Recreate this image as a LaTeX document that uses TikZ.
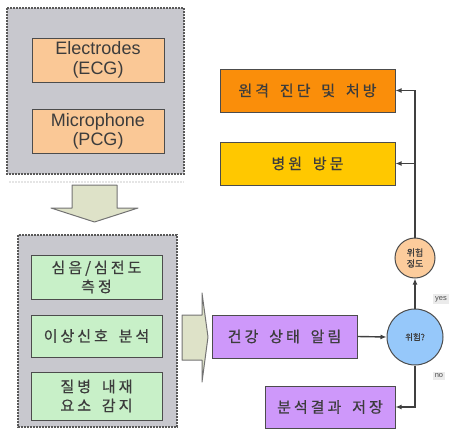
\documentclass[tikz,border=0pt]{standalone}
\usepackage{fontspec}
\setmainfont{Liberation Sans}
\newfontfamily\kr[LetterSpace=20,FakeBold=0.6,WordSpace=1.7]{Noto Sans CJK KR}
\newfontfamily\krs[FakeBold=0.4]{Noto Sans CJK KR}
\usetikzlibrary{arrows.meta}
\definecolor{grayfill}{RGB}{200,200,206}
\definecolor{peachbox}{RGB}{250,200,150}
\definecolor{greenbox}{RGB}{200,240,200}
\definecolor{purplebox}{RGB}{206,152,250}
\definecolor{bluecirc}{RGB}{150,200,250}
\definecolor{peachcirc}{RGB}{252,204,156}
\definecolor{orangebox}{RGB}{250,142,10}
\definecolor{yellowbox}{RGB}{255,200,0}
\definecolor{arrowfill}{RGB}{222,226,200}
\definecolor{txt}{RGB}{60,60,60}
\tikzset{
  groupbox/.style={draw=black!65, fill=grayfill, dash pattern=on 2pt off 1pt, line width=1.3pt},
  grpshadow/.style={draw=black!10, dash pattern=on 2pt off 1pt, line width=1.2pt},
  engbox/.style={draw=black!70, fill=peachbox, line width=1pt, minimum width=132pt, minimum height=44pt, inner sep=0pt, align=center, text=txt, font=\fontsize{18}{19.5}\selectfont},
  grnbox/.style={draw=black!70, fill=greenbox, line width=1pt, minimum width=131pt, inner sep=0pt, align=center, text=txt, font=\kr\fontsize{15}{19}\selectfont},
  prpbox/.style={draw=black!70, fill=purplebox, line width=1pt, inner sep=0pt, align=center, text=txt, font=\kr\fontsize{15}{19}\selectfont},
  resbox/.style={draw=black!70, line width=1pt, minimum width=175pt, minimum height=43pt, inner sep=0pt, align=center, text=txt, font=\kr\fontsize{15}{18}\selectfont},
  circ/.style={circle, draw=black!70, line width=1pt, inner sep=0pt, align=center, text=txt},
  conn/.style={draw=black!75, line width=1.4pt, -{Latex[length=6pt,width=5pt]}},
  blockarrow/.style={draw=black!55, fill=arrowfill, line width=1pt, line join=round},
  lbl/.style={fill=black!8, inner sep=2pt, text=black!70, font=\fontsize{7.5}{8}\selectfont}
}
\begin{document}
\begin{tikzpicture}[x=1pt,y=-1pt]
\useasboundingbox (0,0) rectangle (459,439);
% top group
\draw[grpshadow] (9,182) -- (184,182);
\draw[groupbox] (7,8) rectangle (184,174);
\node[engbox] (ecg) at (98,60) {Electrodes\\(ECG)};
\node[engbox] (pcg) at (98,131.5) {Microphone\\(PCG)};
% down block arrow
\draw[blockarrow] (72,185) -- (117,185) -- (117,208) -- (138,208) -- (94.5,222) -- (51,208) -- (72,208) -- cycle;
% bottom group
\draw[groupbox] (18,235) rectangle (177,427);
\node[grnbox, minimum height=44pt] (g1) at (96.5,277) {심음/심전도\\측정};
\node[grnbox, minimum height=42pt] (g2) at (96.5,336) {이상신호 분석};
\node[grnbox, minimum height=48pt] (g3) at (96.5,396) {질병 내재\\요소 감지};
% right block arrow
\draw[blockarrow] (182,315) -- (202,315) -- (202,293) -- (208,337) -- (202,382) -- (202,360) -- (182,360) -- cycle;
% right side
\node[prpbox, minimum width=145pt, minimum height=43pt] (p1) at (284.5,336.5) {건강 상태 알림};
\node[circ, fill=bluecirc, minimum size=56pt, font=\krs\fontsize{8.5}{10}\selectfont] (bc) at (415,337) {위험?};
\node[prpbox, minimum width=130pt, minimum height=42pt] (p2) at (330,407) {분석결과 저장};
\node[circ, fill=peachcirc, minimum size=40pt, font=\krs\fontsize{9}{11}\selectfont] (pc) at (415,258) {위험\\정도};
\node[resbox, fill=orangebox] (rx) at (307.5,90.5) {원격 진단 및 처방};
\node[resbox, fill=yellowbox] (hv) at (307.5,163.5) {병원 방문};
% connectors
\draw[conn] (p1.east) -- (bc.west);
\draw[conn] (bc.north) -- (pc.south);
\draw[conn] (bc.south) |- (p2.east);
\draw[conn] (pc.north) |- (rx.east);
\draw[conn] (pc.north) |- (hv.east);
\node[lbl] (yes) at (441,299) {yes};
\node[lbl] (no) at (439,376) {no};
\end{tikzpicture}
\end{document}
